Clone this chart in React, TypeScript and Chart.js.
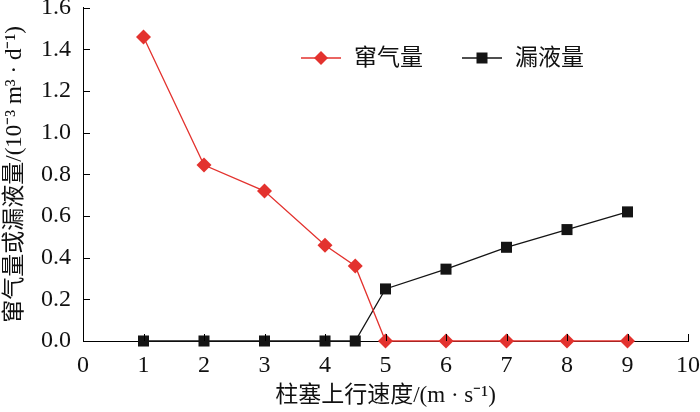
import React, { useEffect, useRef } from "react";
import { Chart, registerables } from "chart.js";

Chart.register(...registerables);

const speedX = [1, 2, 3, 4, 4.5, 5, 6, 7, 8, 9];
const gasLeak = [1.46, 0.845, 0.72, 0.46, 0.36, 0, 0, 0, 0, 0];
const liquidLeak = [0, 0, 0, 0, 0, 0.25, 0.345, 0.45, 0.535, 0.62];
const seriesNames = ["窜气量", "漏液量"];
const xTitle = "柱塞上行速度/(m · s⁻¹)";
const yTitle = "窜气量或漏液量/(10⁻³ m³ · d⁻¹)";

const RED = "#e3322e";
const BLACK = "#141414";
const FONT = "\"Liberation Serif\", \"Noto Sans CJK SC\", serif";

const inwardTicks = {
  id: "inwardTicks",
  afterDraw(chart: any) {
    const ctx = chart.ctx;
    const xs = chart.scales.x;
    const ys = chart.scales.y;
    ctx.save();
    ctx.strokeStyle = "#000";
    ctx.lineWidth = 1;
    ctx.beginPath();
    xs.ticks.forEach((t: any) => {
      const px = Math.round(xs.getPixelForValue(t.value)) + 0.5;
      ctx.moveTo(px, ys.bottom);
      ctx.lineTo(px, ys.bottom - 7);
    });
    ys.ticks.forEach((t: any) => {
      const py = Math.round(ys.getPixelForValue(t.value)) + 0.5;
      ctx.moveTo(xs.left, py);
      ctx.lineTo(xs.left + 7, py);
    });
    ctx.stroke();
    ctx.restore();
  },
};

const customLegend = {
  id: "customLegend",
  afterDraw(chart: any) {
    const ctx = chart.ctx;
    const items = [
      { x: 301, y: 58 },
      { x: 462, y: 58 },
    ];
    chart.data.datasets.forEach((ds: any, i: number) => {
      const { x, y } = items[i];
      ctx.save();
      ctx.strokeStyle = ds.borderColor;
      ctx.lineWidth = 1.3;
      ctx.beginPath();
      ctx.moveTo(x, y);
      ctx.lineTo(x + 40, y);
      ctx.stroke();
      ctx.fillStyle = ds.pointBackgroundColor;
      ctx.beginPath();
      if (ds.pointStyle === "rectRot") {
        const r = 7;
        ctx.moveTo(x + 20, y - r);
        ctx.lineTo(x + 20 + r, y);
        ctx.lineTo(x + 20, y + r);
        ctx.lineTo(x + 20 - r, y);
        ctx.closePath();
      } else {
        ctx.rect(x + 20 - 5.5, y - 5.5, 11, 11);
      }
      ctx.fill();
      ctx.fillStyle = "#111";
      ctx.font = `23px ${FONT}`;
      ctx.textBaseline = "middle";
      ctx.textAlign = "left";
      ctx.fillText(ds.label, x + 53, y + 1);
      ctx.restore();
    });
  },
};

export default function App() {
  const ref = useRef<HTMLCanvasElement | null>(null);

  useEffect(() => {
    document.body.style.margin = "0";
    const canvas = ref.current;
    if (!canvas) return;
    const chart = new Chart(canvas, {
      type: "line",
      data: {
        datasets: [
          {
            label: seriesNames[0],
            data: speedX.map((x, i) => ({ x, y: gasLeak[i] })),
            borderColor: RED,
            backgroundColor: RED,
            pointBackgroundColor: RED,
            pointBorderColor: RED,
            pointStyle: "rectRot",
            pointRadius: 7.5,
            pointBorderWidth: 0,
            borderWidth: 1.3,
            clip: false as any,
          },
          {
            label: seriesNames[1],
            data: speedX.map((x, i) => ({ x, y: liquidLeak[i] })),
            borderColor: BLACK,
            backgroundColor: BLACK,
            pointBackgroundColor: BLACK,
            pointBorderColor: BLACK,
            pointStyle: "rect",
            pointRadius: 7.8,
            pointBorderWidth: 0,
            borderWidth: 1.3,
            clip: false as any,
          },
        ],
      },
      options: {
        responsive: false,
        animation: false,
        devicePixelRatio: 1,
        layout: { padding: { left: 0, top: 7, right: 12, bottom: 0 } },
        plugins: {
          legend: { display: false },
          tooltip: { enabled: false },
        },
        scales: {
          x: {
            type: "linear",
            min: 0,
            max: 10,
            ticks: {
              stepSize: 1,
              color: "#111",
              padding: 10,
              font: { family: FONT, size: 24 },
              maxRotation: 0,
            },
            grid: { display: true, drawOnChartArea: false, drawTicks: false },
            border: { display: true, color: "#000", width: 1 },
            title: {
              display: true,
              text: xTitle,
              color: "#111",
              font: { family: FONT, size: 23 },
              padding: { top: 0, bottom: 2 },
            },
            afterFit(scale: any) {
              scale.height = 71;
              scale.paddingLeft = 0;
              scale.paddingRight = 0;
            },
          },
          y: {
            type: "linear",
            min: 0,
            max: 1.6,
            ticks: {
              stepSize: 0.2,
              color: "#111",
              padding: 12,
              font: { family: FONT, size: 24 },
              callback: (v: any) => Number(v).toFixed(1),
            },
            grid: { display: true, drawOnChartArea: false, drawTicks: false },
            border: { display: true, color: "#000", width: 1 },
            title: {
              display: true,
              text: yTitle,
              color: "#111",
              font: { family: FONT, size: 23 },
              padding: { top: 1, bottom: 0 },
            },
            afterFit(scale: any) {
              scale.width = 83;
              scale.paddingTop = 0;
              scale.paddingBottom = 0;
            },
          },
        },
      },
      plugins: [inwardTicks, customLegend],
    });
    return () => chart.destroy();
  }, []);

  return (
    <div style={{ width: 700, height: 412, background: "#fff" }}>
      <canvas ref={ref} width={700} height={412} />
    </div>
  );
}
